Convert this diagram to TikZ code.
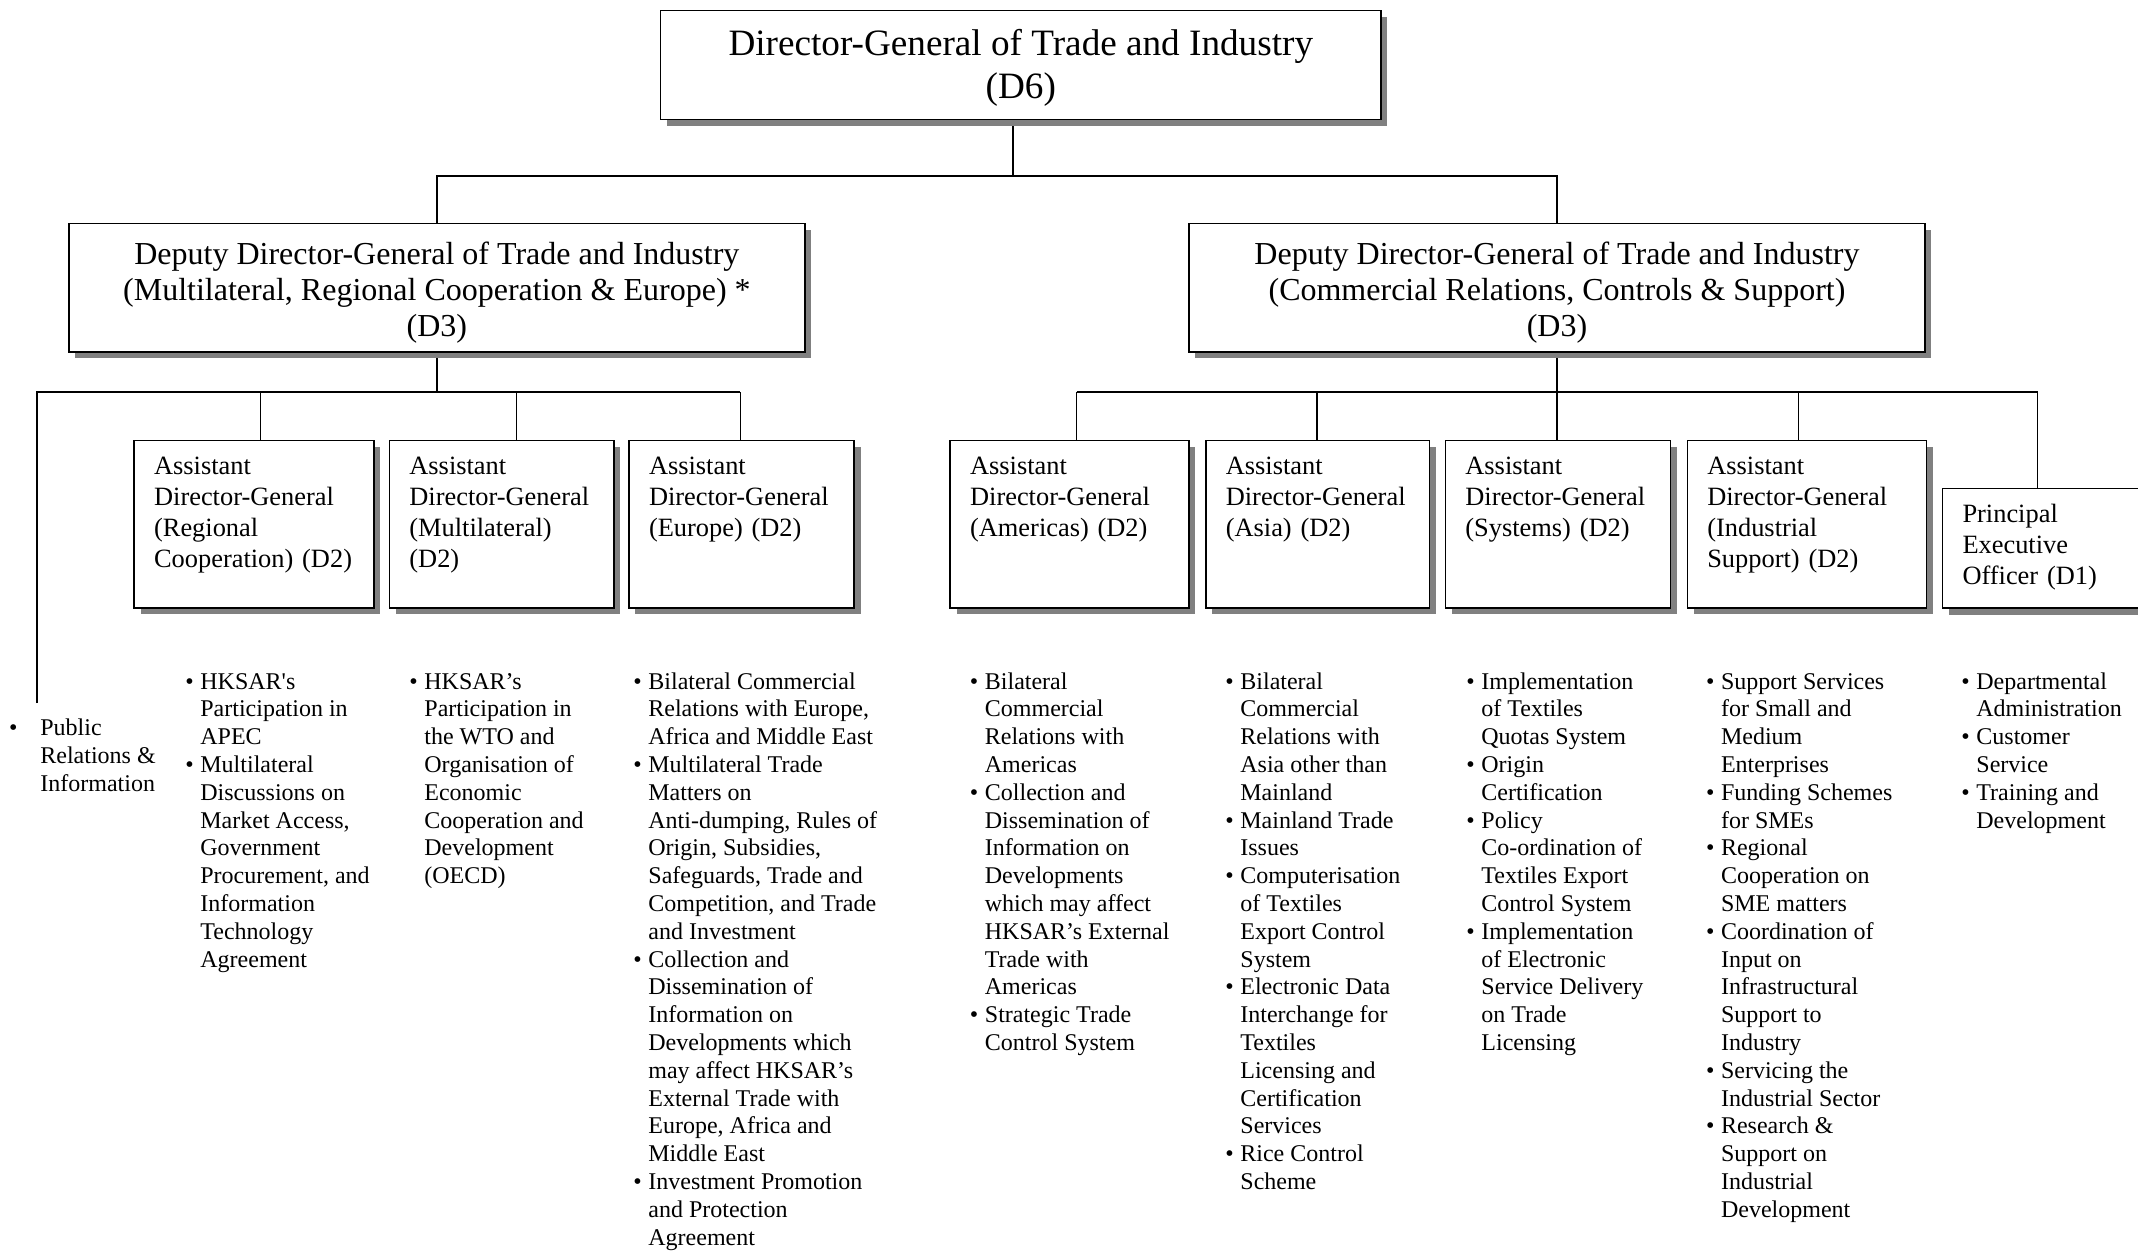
\documentclass[tikz,border=0pt]{standalone}
\usepackage{fontspec}
\setmainfont{Liberation Serif}
\usepackage{tikz}
\usetikzlibrary{shadows,backgrounds}
\definecolor{shadowgray}{RGB}{128,128,128}
\newcommand{\duties}[1]{\begin{tabular}[t]{@{}l@{\hspace{3.3pt}}l@{}}#1\end{tabular}}
\tikzset{
  box/.style={draw, line width=0.8pt, fill=white, inner sep=0pt,
    drop shadow={shadow xshift=3.2pt, shadow yshift=-3.2pt, fill=shadowgray, opacity=1}},
  dgbox/.style={box, align=center, minimum width=360.25pt, minimum height=54.6pt,
    text height=36pt, text depth=2.1pt, font=\fontsize{18.6}{21.6}\selectfont},
  ddgbox/.style={box, align=center, minimum width=368pt, minimum height=64.25pt,
    text height=51pt, text depth=2.6pt, font=\fontsize{16}{18}\selectfont},
  adgbox/.style={box, anchor=north west, align=left, inner xsep=10pt,
    text height=17pt, text depth=66.75pt, font=\fontsize{13.2}{15.5}\selectfont},
  duty/.style={anchor=base west, inner sep=0pt, font=\fontsize{12}{13.9}\selectfont},
  link/.style={line width=0.7pt}
}

\begin{document}
\begin{tikzpicture}[x=0.5pt,y=-0.5pt]
\useasboundingbox (0,0) rectangle (2138,1250);
\clip (0,0) rectangle (2138,1250);

\node[dgbox] (dg) at (1020.8,65) {Director-General of Trade and Industry\\(D6)};
\node[ddgbox] (ddgl) at (436.9,287.8) {Deputy Director-General of Trade and Industry\\(Multilateral, Regional Cooperation \& Europe) *\\(D3)};
\node[ddgbox] (ddgr) at (1557,287.8) {Deputy Director-General of Trade and Industry\\(Commercial Relations, Controls \& Support)\\(D3)};

\node[adgbox, text width=99.8pt] (adgrc) at (133.3,439.5) {Assistant\\Director-General\\(Regional\\Cooperation) (D2)};
\node[adgbox, text width=92.2pt] (adgml) at (388.6,439.5) {Assistant\\Director-General\\(Multilateral)\\(D2)};
\node[adgbox, text width=92.6pt] (adgeu) at (628.2,439.5) {Assistant\\Director-General\\(Europe) (D2)};
\node[adgbox, text width=99.4pt] (adgam) at (949.3,439.5) {Assistant\\Director-General\\(Americas) (D2)};
\node[adgbox, text width=91.8pt] (adgas) at (1205,439.5) {Assistant\\Director-General\\(Asia) (D2)};
\node[adgbox, text width=92.5pt] (adgsy) at (1444.6,439.5) {Assistant\\Director-General\\(Systems) (D2)};
\node[adgbox, text width=99.5pt] (adgis) at (1686.5,439.5) {Assistant\\Director-General\\(Industrial\\Support) (D2)};
\node[adgbox, text width=100pt, text depth=42.8pt] (peo) at (1941.7,487.7) {Principal\\Executive\\Officer (D1)};

\coordinate (topbus) at (1013,176);
\coordinate (prtop) at (36.9,703);
\coordinate (lbus0) at (36.9,392);
\coordinate (lbus1) at (260.6,392);
\coordinate (lbus2) at (516.6,392);
\coordinate (lbus3) at (740.4,392);
\coordinate (rbus1) at (1076.6,392);
\coordinate (rbus2) at (1316.8,392);
\coordinate (rbus3) at (1557,392);
\coordinate (rbus4) at (1798.3,392);
\coordinate (rbus5) at (2037.5,392);

\begin{scope}[on background layer]
\draw[link] (dg.south -| topbus) -- (topbus);
\draw[link] (ddgl.north) |- (topbus) -| (ddgr.north);
\draw[link] (ddgl.south) -- (ddgl.south |- lbus0);
\draw[link] (prtop) -- (lbus0) -- (lbus3);
\foreach \c/\n in {lbus1/adgrc, lbus2/adgml, lbus3/adgeu}
  \draw[link] (\c) -- (\c |- \n.north);
\draw[link] (ddgr.south) -- (ddgr.south |- rbus1);
\draw[link] (rbus1) -- (rbus5);
\foreach \c/\n in {rbus1/adgam, rbus2/adgas, rbus3/adgsy, rbus4/adgis, rbus5/peo}
  \draw[link] (\c) -- (\c |- \n.north);
\end{scope}

\node[duty, font=\fontsize{12}{14.2}\selectfont] (pr) at (8.8,735) {\begin{tabular}[t]{@{}l@{\hspace{11.4pt}}l@{}}\textbullet & Public\\ & Relations \&\\ & Information\end{tabular}};

\node[duty] (dutrc) at (185,689) {\duties{\textbullet & HKSAR\textquotesingle s\\ & Participation in\\ & APEC\\
\textbullet & Multilateral\\ & Discussions on\\ & Market Access,\\ & Government\\ & Procurement, and\\ & Information\\ & Technology\\ & Agreement}};

\node[duty] (dutml) at (409,689) {\duties{\textbullet & HKSAR’s\\ & Participation in\\ & the WTO and\\ & Organisation of\\ & Economic\\ & Cooperation and\\ & Development\\ & (OECD)}};

\node[duty] (duteu) at (633,689) {\duties{\textbullet & Bilateral Commercial\\ & Relations with Europe,\\ & Africa and Middle East\\
\textbullet & Multilateral Trade\\ & Matters on\\ & Anti-dumping, Rules of\\ & Origin, Subsidies,\\ & Safeguards, Trade and\\ & Competition, and Trade\\ & and Investment\\
\textbullet & Collection and\\ & Dissemination of\\ & Information on\\ & Developments which\\ & may affect HKSAR’s\\ & External Trade with\\ & Europe, Africa and\\ & Middle East\\
\textbullet & Investment Promotion\\ & and Protection\\ & Agreement}};

\node[duty] (dutam) at (969.5,689) {\duties{\textbullet & Bilateral\\ & Commercial\\ & Relations with\\ & Americas\\
\textbullet & Collection and\\ & Dissemination of\\ & Information on\\ & Developments\\ & which may affect\\ & HKSAR’s External\\ & Trade with\\ & Americas\\
\textbullet & Strategic Trade\\ & Control System}};

\node[duty] (dutas) at (1225,689) {\duties{\textbullet & Bilateral\\ & Commercial\\ & Relations with\\ & Asia other than\\ & Mainland\\
\textbullet & Mainland Trade\\ & Issues\\
\textbullet & Computerisation\\ & of Textiles\\ & Export Control\\ & System\\
\textbullet & Electronic Data\\ & Interchange for\\ & Textiles\\ & Licensing and\\ & Certification\\ & Services\\
\textbullet & Rice Control\\ & Scheme}};

\node[duty] (dutsy) at (1466,689) {\duties{\textbullet & Implementation\\ & of Textiles\\ & Quotas System\\
\textbullet & Origin\\ & Certification\\
\textbullet & Policy\\ & Co-ordination of\\ & Textiles Export\\ & Control System\\
\textbullet & Implementation\\ & of Electronic\\ & Service Delivery\\ & on Trade\\ & Licensing}};

\node[duty] (dutis) at (1705.6,689) {\duties{\textbullet & Support Services\\ & for Small and\\ & Medium\\ & Enterprises\\
\textbullet & Funding Schemes\\ & for SMEs\\
\textbullet & Regional\\ & Cooperation on\\ & SME matters\\
\textbullet & Coordination of\\ & Input on\\ & Infrastructural\\ & Support to\\ & Industry\\
\textbullet & Servicing the\\ & Industrial Sector\\
\textbullet & Research \&\\ & Support on\\ & Industrial\\ & Development}};

\node[duty] (dutpeo) at (1961,689) {\duties{\textbullet & Departmental\\ & Administration\\
\textbullet & Customer\\ & Service\\
\textbullet & Training and\\ & Development}};
\end{tikzpicture}
\end{document}
